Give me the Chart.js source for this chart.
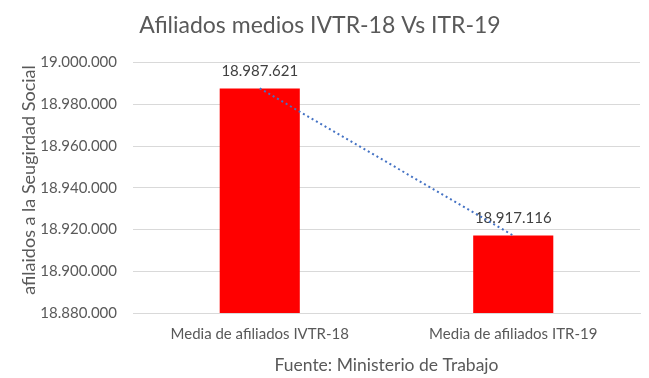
<!DOCTYPE html>
<html>
<head>
<meta charset="utf-8">
<script src="https://cdn.jsdelivr.net/npm/chart.js@4/dist/chart.umd.min.js"></script>
<style>
html,body{margin:0;padding:0;background:#fff;}
#wrap{width:649px;height:378px;}
</style>
</head>
<body>
<div id="wrap"><canvas id="c" width="649" height="378"></canvas></div>
<script>
const categories = ["Media de afiliados IVTR-18", "Media de afiliados ITR-19"];
const afiliados = [18987621, 18917116];
const yTicks = [18880000, 18900000, 18920000, 18940000, 18960000, 18980000, 19000000];
const titleText = "Afiliados medios IVTR-18 Vs ITR-19";
const yTitle = "afilaidos a la Seugirdad Social";
const xTitle = "Fuente: Ministerio de Trabajo";

const FONT = "Lato, 'Open Sans', sans-serif";
function fmt(v){ return String(Math.round(v)).replace(/\B(?=(\d{3})+(?!\d))/g, "."); }

const labelPlugin = {
  id: 'barLabels',
  afterDatasetDraw(chart, args) {
    if (chart.data.datasets[args.index].type !== 'bar') return;
    const ctx = chart.ctx;
    ctx.save();
    ctx.font = "15px " + FONT;
    ctx.fillStyle = "#404040";
    ctx.textAlign = "center";
    ctx.textBaseline = "middle";
    args.meta.data.forEach((el, i) => {
      const v = chart.data.datasets[args.index].data[i];
      ctx.fillText(fmt(v), el.x, el.y - 17);
    });
    ctx.restore();
  }
};

const yTitlePlugin = {
  id: 'yTitle',
  afterDraw(chart) {
    const ctx = chart.ctx;
    ctx.save();
    ctx.font = "18px " + FONT;
    ctx.fillStyle = "#595959";
    ctx.textAlign = "center";
    ctx.textBaseline = "middle";
    ctx.translate(29, 180);
    ctx.rotate(-Math.PI / 2);
    ctx.fillText(yTitle, 0, 0);
    ctx.restore();
  }
};

new Chart(document.getElementById('c'), {
  data: {
    labels: categories,
    datasets: [
      {
        type: 'bar',
        data: afiliados,
        backgroundColor: '#FF0000',
        borderWidth: 0,
        barPercentage: 0.316,
        categoryPercentage: 1,
        order: 2
      },
      {
        type: 'line',
        data: afiliados,
        borderColor: '#4472C4',
        borderWidth: 2,
        borderDash: [2, 3],
        pointRadius: 0,
        fill: false,
        order: 1
      }
    ]
  },
  options: {
    responsive: false,
    animation: false,
    devicePixelRatio: 1,
    layout: { padding: { left: 0, right: 9, top: 0, bottom: 0 } },
    plugins: {
      legend: { display: false },
      tooltip: { enabled: false },
      title: {
        display: true,
        text: titleText,
        color: '#595959',
        font: { family: FONT, size: 23, weight: 'normal' },
        padding: { top: 12, bottom: 23 }
      }
    },
    scales: {
      x: {
        type: 'category',
        offset: true,
        grid: { display: false, drawTicks: false },
        border: { display: true, color: '#D9D9D9', width: 1 },
        ticks: { color: '#595959', font: { family: FONT, size: 15 }, padding: 12, maxRotation: 0 },
        title: { display: true, text: xTitle, color: '#595959', font: { family: FONT, size: 17.5 }, padding: { top: 0, bottom: 2 } },
        afterFit(s) { s.height = 65; }
      },
      y: {
        min: 18880000,
        max: 19000000,
        afterBuildTicks(s) { s.ticks = yTicks.map(v => ({ value: v })); },
        grid: { color: '#D9D9D9', drawTicks: false, lineWidth: 1 },
        border: { display: false },
        ticks: { color: '#595959', font: { family: FONT, size: 15 }, padding: 16, callback: v => fmt(v) },
        title: { display: false, text: yTitle },
        afterFit(s) { s.width = 133; }
      }
    }
  },
  plugins: [labelPlugin, yTitlePlugin]
});
</script>
</body>
</html>
